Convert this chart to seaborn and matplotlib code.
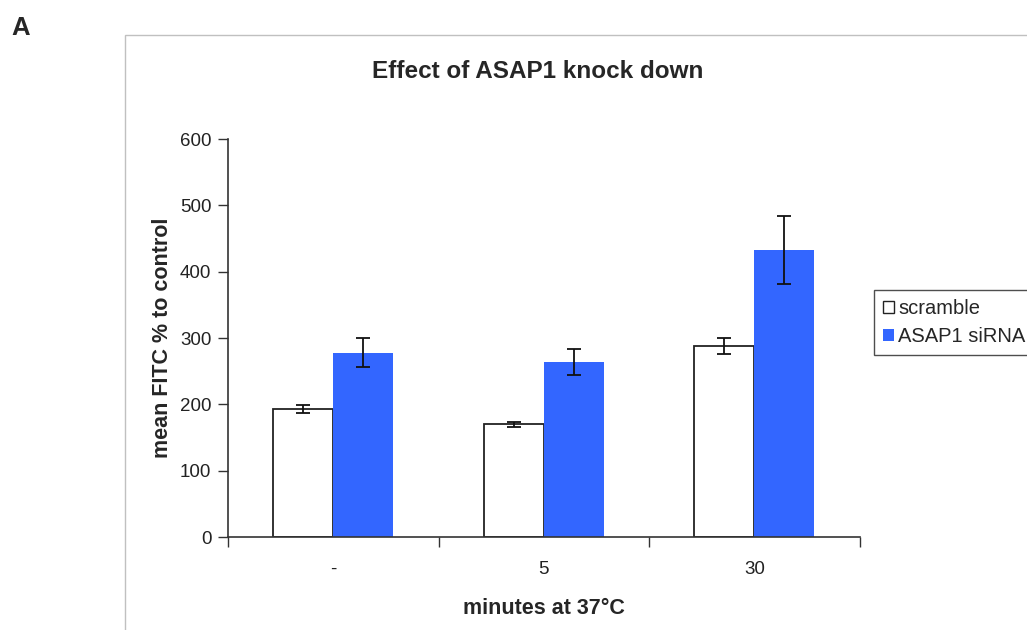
import pandas as pd
import seaborn as sns
import matplotlib.pyplot as plt
from matplotlib.patches import Rectangle

# values
minutes = ['-', '5', '30']
scramble = [193, 170, 288]
scramble_err = [6, 4, 12]
sirna = [278, 264, 433]
sirna_err = [22, 20, 51]
groups = ['scramble', 'ASAP1 siRNA']
colors = ['#FFFFFF', '#3366FF']


def build_frame():
    rows = []
    for i, m in enumerate(minutes):
        rows.append({'minutes': m, 'group': groups[0], 'value': scramble[i], 'err': scramble_err[i]})
        rows.append({'minutes': m, 'group': groups[1], 'value': sirna[i], 'err': sirna_err[i]})
    return pd.DataFrame(rows)


def main():
    sns.set_style('white')
    plt.rcParams['font.family'] = ['Liberation Sans', 'DejaVu Sans']

    data = build_frame()

    fig = plt.figure(figsize=(10.27, 6.3), dpi=100)
    ax = fig.add_axes([0.222, 0.1476, 0.615, 0.6317])

    sns.barplot(data=data, x='minutes', y='value', hue='group', order=minutes,
                hue_order=groups, palette=colors, width=0.57, errorbar=None,
                ax=ax, legend=False, saturation=1)

    # outline scramble bars, error bars from bar geometry
    for j, g in enumerate(groups):
        cont = ax.containers[j]
        sub = data[data['group'] == g].set_index('minutes').loc[minutes]
        for patch in cont.patches:
            if j == 0:
                patch.set_edgecolor('#222222')
                patch.set_linewidth(1.3)
            else:
                patch.set_edgecolor('none')
        xs = [p.get_x() + p.get_width() / 2 for p in cont.patches]
        ax.errorbar(xs, sub['value'], yerr=sub['err'], fmt='none',
                    ecolor='#111111', elinewidth=1.3, capsize=5, capthick=1.3, zorder=5)

    ax.set_ylim(0, 600)
    ax.set_xlim(-0.5, 2.5)
    ax.set_yticks(range(0, 601, 100))
    ax.tick_params(axis='y', direction='out', length=7, width=1, colors='#333333',
                   labelsize=13.5, labelcolor='#222222', left=True, pad=5)
    ax.tick_params(axis='x', length=0, labelsize=13.5, labelcolor='#222222', pad=17)
    # category boundary ticks as in Excel
    ax.set_xticks([-0.5, 0.5, 1.5, 2.5], minor=True)
    ax.tick_params(axis='x', which='minor', direction='out', length=7, width=1,
                   colors='#333333', bottom=True)
    for side in ['top', 'right']:
        ax.spines[side].set_visible(False)
    for side in ['left', 'bottom']:
        ax.spines[side].set_color('#333333')
        ax.spines[side].set_linewidth(1.2)

    ax.set_xlabel('minutes at 37°C', fontsize=15.5, fontweight='bold', labelpad=15)
    ax.set_ylabel('mean FITC % to control', fontsize=15.5, fontweight='bold', labelpad=5)
    fig.text(0.524, 0.887, 'Effect of ASAP1 knock down', ha='center', va='center',
             fontsize=17.5, fontweight='bold')
    fig.text(0.011, 0.956, 'A', ha='left', va='center', fontsize=18.5, fontweight='bold')

    # chart area border
    fig.patches.append(Rectangle((125 / 1027, -0.05), 1.0, 1 - 35 / 630 + 0.05,
                                 transform=fig.transFigure, fill=False,
                                 edgecolor='#C0C0C0', linewidth=1, clip_on=False))

    handles = [Rectangle((0, 0), 1, 1, facecolor=colors[0], edgecolor='#222222', linewidth=1),
               Rectangle((0, 0), 1, 1, facecolor=colors[1], edgecolor='none')]
    leg = fig.legend(handles, groups, loc='upper left',
                     bbox_to_anchor=(874 / 1027, 1 - 290 / 630), fontsize=14.5,
                     frameon=True, fancybox=False, handlelength=0.55, handleheight=0.55,
                     handletextpad=0.2, borderpad=0.45, labelspacing=0.45,
                     borderaxespad=0)
    leg.get_frame().set_edgecolor('#222222')
    leg.get_frame().set_linewidth(1)

    fig.savefig('out.png', dpi=100)


if __name__ == '__main__':
    main()
